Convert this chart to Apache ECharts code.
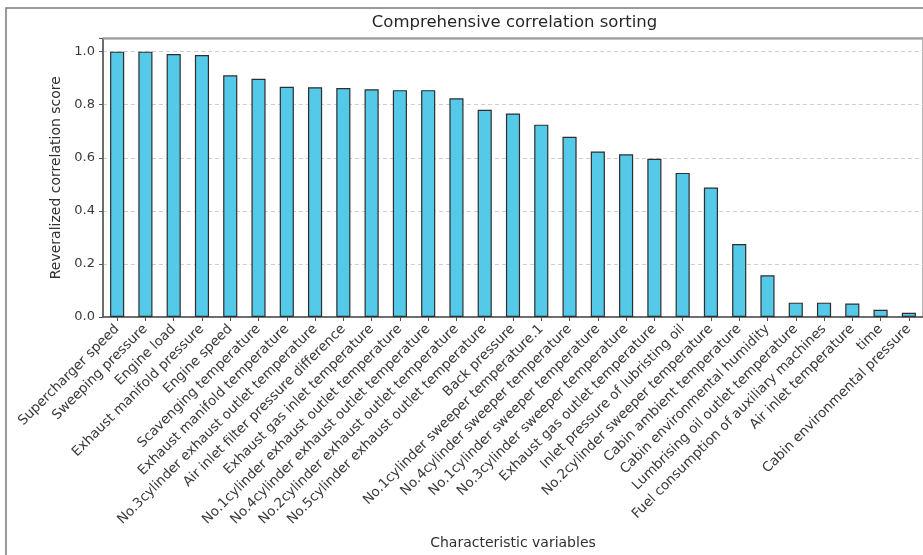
<!DOCTYPE html>
<html>
<head>
<meta charset="utf-8">
<script src="https://cdn.jsdelivr.net/npm/echarts@6/dist/echarts.min.js"></script>
<style>
  html, body { margin: 0; padding: 0; background: #fff; }
  #chart { width: 923px; height: 555px; }
</style>
</head>
<body>
<div id="chart"></div>
<script>
// Feature names, sorted by their combined correlation score
const categories = [
  'Supercharger speed',
  'Sweeping pressure',
  'Engine load',
  'Exhaust manifold pressure',
  'Engine speed',
  'Scavenging temperature',
  'Exhaust manifold temperature',
  'No.3cylinder exhaust outlet temperature',
  'Air inlet filter pressure difference',
  'Exhaust gas inlet temperature',
  'No.1cylinder exhaust outlet temperature',
  'No.4cylinder exhaust outlet temperature',
  'No.2cylinder exhaust outlet temperature',
  'No.5cylinder exhaust outlet temperature',
  'Back pressure',
  'No.1cylinder sweeper temperature.1',
  'No.4cylinder sweeper temperature',
  'No.1cylinder sweeper temperature',
  'No.3cylinder sweeper temperature',
  'Exhaust gas outlet temperature',
  'Inlet pressure of lubristing oil',
  'No.2cylinder sweeper temperature',
  'Cabin ambient temperature',
  'Cabin environmental humidity',
  'Lumbrising oil outlet temperature',
  'Fuel consumption of auxiliary machines',
  'Air inlet temperature',
  'time',
  'Cabin environmental pressure'
];

// Normalized correlation score per feature
const scores = [
  1.000, 1.000, 0.991, 0.987, 0.911, 0.898, 0.868, 0.866, 0.863, 0.858,
  0.855, 0.855, 0.824, 0.781, 0.767, 0.725, 0.679, 0.624, 0.613, 0.596,
  0.543, 0.488, 0.275, 0.157, 0.054, 0.054, 0.051, 0.027, 0.016
];

// Y axis tick values
const yTicks = [0.0, 0.2, 0.4, 0.6, 0.8, 1.0];

const chartTitle = 'Comprehensive correlation sorting';
const xName = 'Characteristic variables';
const yName = 'Reveralized correlation score';

const FONT = 'DejaVu Sans';
const gridLeft = 103, gridTop = 38.4, gridWidth = 823, gridHeight = 285.6;

const chart = echarts.init(document.getElementById('chart'), null, { renderer: 'canvas' });

chart.setOption({
  animation: false,
  backgroundColor: '#ffffff',
  grid: {
    left: gridLeft, top: gridTop, width: gridWidth, height: gridHeight,
    show: true, borderColor: '#9a9a9a', borderWidth: 1.5, backgroundColor: 'transparent'
  },
  graphic: [
    {
      type: 'rect', z: 100, silent: true,
      shape: { x: 6, y: 8, width: 940, height: 560 },
      style: { fill: 'none', stroke: '#7a7a7a', lineWidth: 1.5 }
    },
    {
      type: 'line', z: 100, silent: true,
      shape: { x1: gridLeft, y1: gridTop, x2: 923, y2: gridTop },
      style: { stroke: '#a0a0a0', lineWidth: 2.2 }
    },
    {
      type: 'text', z: 100, silent: true,
      x: gridLeft + gridWidth / 2, y: 23,
      style: {
        text: chartTitle, fill: '#262626',
        font: '16.5px "' + FONT + '"', textAlign: 'center', textVerticalAlign: 'middle'
      }
    }
  ],
  xAxis: {
    type: 'category',
    data: categories,
    boundaryGap: true,
    name: xName,
    nameLocation: 'middle',
    nameGap: 219,
    nameTextStyle: { fontFamily: FONT, fontSize: 14, color: '#303030' },
    axisLine: { show: true, lineStyle: { color: '#555', width: 1.5 } },
    axisTick: { show: true, alignWithLabel: true, length: 4, lineStyle: { color: '#555' } },
    axisLabel: {
      interval: 0, rotate: 45, margin: 10,
      fontFamily: FONT, fontSize: 13.5, color: '#3a3a3a'
    },
    splitLine: { show: false }
  },
  yAxis: {
    type: 'value',
    min: 0, max: 1.05, interval: 0.2,
    name: yName,
    nameLocation: 'middle',
    nameGap: 28,
    nameTextStyle: { fontFamily: FONT, fontSize: 14, color: '#303030' },
    axisLine: { show: true, lineStyle: { color: '#555', width: 1.5 } },
    axisTick: { show: true, length: 4, lineStyle: { color: '#555' } },
    axisLabel: {
      margin: 8, fontFamily: FONT, fontSize: 13, color: '#3a3a3a',
      formatter: function (v) {
        const hit = yTicks.find(t => Math.abs(t - v) < 1e-6);
        return hit === undefined ? '' : hit.toFixed(1);
      }
    },
    splitLine: { show: true, lineStyle: { color: '#cfcfcf', type: [4, 3], width: 1 } }
  },
  series: [{
    type: 'bar',
    data: scores,
    barWidth: '50%',
    itemStyle: { color: '#54c9e8', borderColor: '#2e2e2e', borderWidth: 1.2 }
  }]
});
</script>
</body>
</html>
